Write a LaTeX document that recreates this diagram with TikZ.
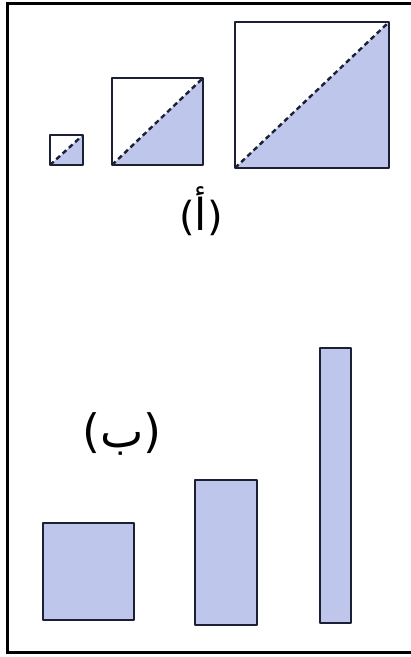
\documentclass[tikz,border=0pt]{standalone}
\usepackage{fontspec}
\newfontfamily\arabicfont[Script=Arabic]{DejaVu Sans}
\newfontfamily\parenfont{DejaVu Sans}
\TeXXeTstate=1
\usepackage{xcolor}
\usetikzlibrary{positioning}
\definecolor{sinkline}{HTML}{1C2035}
\definecolor{sinkfill}{HTML}{BEC6EC}

\tikzset{
  sketchbox/.style={draw=sinkline, line width=2.2pt, line join=round},
  shadefill/.style={fill=sinkfill},
  diaghalf/.style={draw=sinkline, line width=2.4pt, dash pattern=on 5pt off 3.5pt},
  partlabel/.style={font=\parenfont\fontsize{40}{46}\selectfont, text=black, inner sep=0pt}
}

\begin{document}
\begin{tikzpicture}[x=1pt, y=1pt]

%% Page and frame
\useasboundingbox (0,0) rectangle (411,657);
\fill[white] (0,0) rectangle (411,657);
\draw[black, line width=3pt] (7,4) rectangle (420,653);

%% ── (a) squares cut along the diagonal ───────────────────────────────
%% small square
\fill[shadefill] (50,492) -- (83,492) -- (83,522) -- cycle;
\draw[sketchbox] (50,492) rectangle (83,522);
\draw[diaghalf] (50,492) -- (83,522);

%% medium square
\fill[shadefill] (112,492) -- (203,492) -- (203,579) -- cycle;
\draw[sketchbox] (112,492) rectangle (203,579);
\draw[diaghalf] (112,492) -- (203,579);

%% large square
\fill[shadefill] (235,489) -- (389,489) -- (389,635) -- cycle;
\draw[sketchbox] (235,489) rectangle (389,635);
\draw[diaghalf] (235,489) -- (389,635);

\node[partlabel] (labA) at (201,446)
  {({\arabicfont\fontsize{44}{50}\selectfont\beginR أ\endR})};

%% ── (b) rectangles of growing height ─────────────────────────────────
\node[partlabel, font=\parenfont\fontsize{46}{52}\selectfont] (labB) at (122,223)
  {({\arabicfont\fontsize{46}{52}\selectfont\beginR ب\endR})};

\fill[shadefill] (43,37) rectangle (134,134);
\draw[sketchbox] (43,37) rectangle (134,134);

\fill[shadefill] (195,32) rectangle (257,177);
\draw[sketchbox] (195,32) rectangle (257,177);

\fill[shadefill] (320,34) rectangle (351,309);
\draw[sketchbox] (320,34) rectangle (351,309);

\end{tikzpicture}
\end{document}
